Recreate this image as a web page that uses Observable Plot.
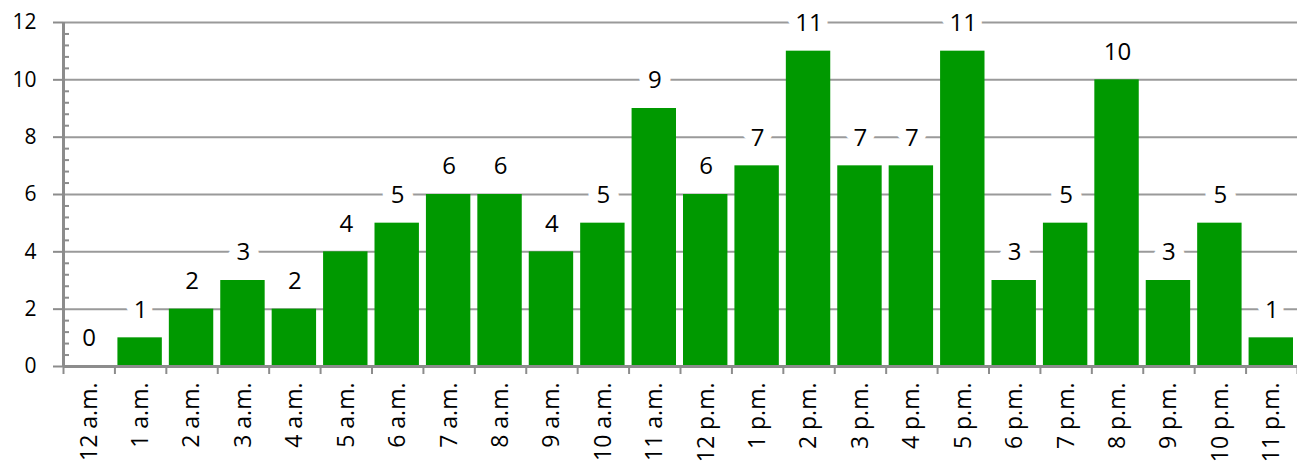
<!DOCTYPE html>
<html>
<head>
<meta charset="utf-8">
<script src="https://cdn.jsdelivr.net/npm/d3@7"></script>
<script src="https://cdn.jsdelivr.net/npm/@observablehq/plot@0.6"></script>
<style>
  html, body { margin: 0; padding: 0; background: #fff; }
  #chart svg { display: block; }
</style>
</head>
<body>
<div id="chart"></div>
<script>
const hours = ["12 a.m.","1 a.m.","2 a.m.","3 a.m.","4 a.m.","5 a.m.","6 a.m.","7 a.m.","8 a.m.","9 a.m.","10 a.m.","11 a.m.",
  "12 p.m.","1 p.m.","2 p.m.","3 p.m.","4 p.m.","5 p.m.","6 p.m.","7 p.m.","8 p.m.","9 p.m.","10 p.m.","11 p.m."];
const counts = [0,1,2,3,2,4,5,6,6,4,5,9,6,7,11,7,7,11,3,5,10,3,5,1];
const yTicks = [0,2,4,6,8,10,12];

const data = hours.map((h, i) => ({hour: h, i, count: counts[i]}));
const font = "'Open Sans', 'Liberation Sans', sans-serif";
const axisColor = "#8c8c8c";
const gridColor = "#9a9a9a";

const chart = Plot.plot({
  width: 1297,
  height: 464,
  marginLeft: 63,
  marginRight: 0,
  marginTop: 22,
  marginBottom: 98,
  style: {fontFamily: font, color: "#000", background: "#fff"},
  x: {type: "linear", domain: [0, hours.length], axis: null},
  y: {domain: [0, 12], axis: null},
  marks: [
    Plot.gridY(yTicks, {stroke: gridColor, strokeOpacity: 1, strokeWidth: 2}),
    Plot.rectY(data, {x1: "i", x2: d => d.i + 1, y: "count", fill: "#009900", insetLeft: 3, insetRight: 4}),
    Plot.text(data, {x: d => d.i + 0.5, y: "count", text: d => String(d.count), dy: -28,
      fill: "#000", stroke: "white", strokeWidth: 20, strokeLinejoin: "round", fontSize: 24}),
    Plot.ruleY([0], {stroke: axisColor, strokeWidth: 3}),
    Plot.ruleX([0], {stroke: axisColor, strokeWidth: 3}),
    Plot.axisY({ticks: yTicks, tickSize: 10, tickPadding: 17, stroke: axisColor, strokeWidth: 2, fill: "#000", fontSize: 21, label: null}),
    Plot.axisY({ticks: d3.range(0, 61).map(k => k * 0.2).filter((v, k) => k % 2 === 0 && k % 10 !== 0), tickSize: -6, tickFormat: () => "", stroke: axisColor, strokeWidth: 2, label: null}),
    Plot.axisX({ticks: d3.range(0, hours.length + 1), tickSize: 8, tickFormat: () => "", stroke: axisColor, strokeWidth: 2, label: null}),
    Plot.axisX({ticks: data.map(d => d.i + 0.5), tickSize: 0, tickPadding: 16, tickRotate: -90,
      tickFormat: v => hours[Math.floor(v)], fill: "#000", fontSize: 23, label: null})
  ]
});
document.getElementById("chart").appendChild(chart);
</script>
</body>
</html>
